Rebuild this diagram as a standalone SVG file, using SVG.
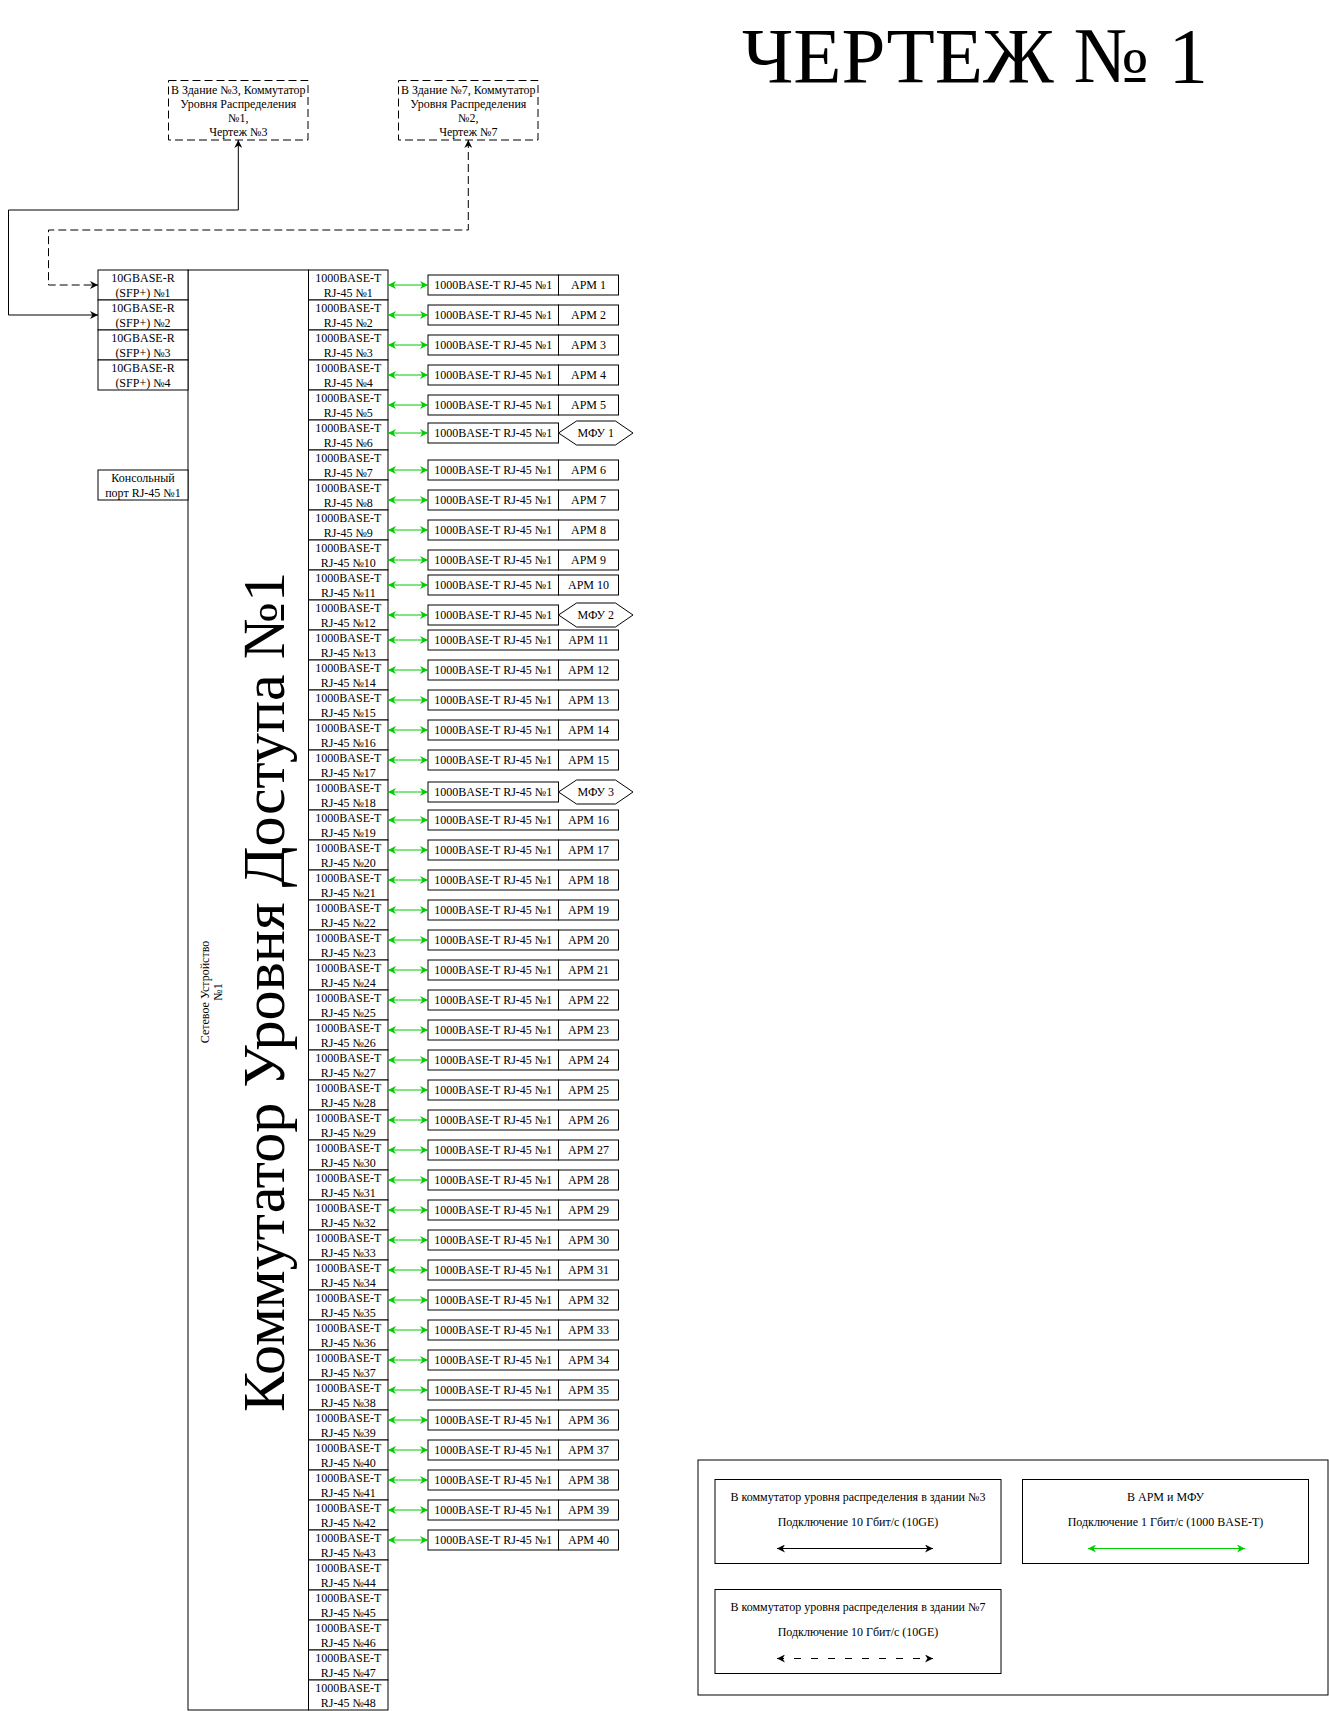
<svg xmlns="http://www.w3.org/2000/svg" width="1329" height="1711" viewBox="0 0 1329 1711">
<style>
.b{fill:#fff;stroke:#000;stroke-width:1}
.d{fill:#fff;stroke:#000;stroke-width:1;stroke-dasharray:8 4}
.t{font-family:"Liberation Serif","Times New Roman",serif;font-size:12px;text-anchor:middle;fill:#000}
.gl line{stroke:#00cc00;stroke-width:1;marker-start:url(#ag);marker-end:url(#ag)}
.bl{fill:none;stroke:#000;stroke-width:1;marker-start:url(#ab);marker-end:url(#ab)}
</style>
<defs>
<marker id="ab" viewBox="0 0 10 10" refX="10" refY="5" markerWidth="8" markerHeight="8" markerUnits="userSpaceOnUse" orient="auto-start-reverse"><path d="M0,0 L10,5 L0,10 L3,5 z" fill="#000"/></marker>
<marker id="ag" viewBox="0 0 10 10" refX="10" refY="5" markerWidth="8" markerHeight="8" markerUnits="userSpaceOnUse" orient="auto-start-reverse"><path d="M0,0 L10,5 L0,10 L3,5 z" fill="#00cc00"/></marker>
</defs>
<rect width="1329" height="1711" fill="#fff"/>

<text id="title" x="975" y="82" style="font-family:'Liberation Serif','Times New Roman',serif;font-size:79px;text-anchor:middle">ЧЕРТЕЖ № 1</text>

<g id="dist-sw-1">
<rect class="d" x="168.5" y="80.5" width="139.5" height="59.5"/>
<text class="t" x="238.3" y="93.5">В Здание №3, Коммутатор</text>
<text class="t" x="238.3" y="107.5">Уровня Распределения</text>
<text class="t" x="238.3" y="121.5">№1,</text>
<text class="t" x="238.3" y="135.5">Чертеж №3</text>
</g>
<g id="dist-sw-2">
<rect class="d" x="398.5" y="80.5" width="139.5" height="59.5"/>
<text class="t" x="468.3" y="93.5">В Здание №7, Коммутатор</text>
<text class="t" x="468.3" y="107.5">Уровня Распределения</text>
<text class="t" x="468.3" y="121.5">№2,</text>
<text class="t" x="468.3" y="135.5">Чертеж №7</text>
</g>

<g id="access-switch">
<rect class="b" x="188" y="270" width="120.5" height="1440"/>
<text transform="translate(284,992) rotate(-90)" style="font-family:'Liberation Serif','Times New Roman',serif;font-size:60px;text-anchor:middle">Коммутатор Уровня Доступа №1</text>
<text class="t" transform="translate(208.5,992) rotate(-90)"><tspan x="0" y="0">Сетевое Устройство</tspan><tspan x="0" y="13">№1</tspan></text>
</g>

<g id="sfp-1" transform="translate(0,270)"><rect class="b" x="98" y="0" width="90" height="30"/><text class="t" x="143" y="12">10GBASE-R</text><text class="t" x="143" y="26.5">(SFP+) №1</text></g>
<g id="sfp-2" transform="translate(0,300)"><rect class="b" x="98" y="0" width="90" height="30"/><text class="t" x="143" y="12">10GBASE-R</text><text class="t" x="143" y="26.5">(SFP+) №2</text></g>
<g id="sfp-3" transform="translate(0,330)"><rect class="b" x="98" y="0" width="90" height="30"/><text class="t" x="143" y="12">10GBASE-R</text><text class="t" x="143" y="26.5">(SFP+) №3</text></g>
<g id="sfp-4" transform="translate(0,360)"><rect class="b" x="98" y="0" width="90" height="30"/><text class="t" x="143" y="12">10GBASE-R</text><text class="t" x="143" y="26.5">(SFP+) №4</text></g>
<g id="console" transform="translate(0,470)"><rect class="b" x="98" y="0" width="90" height="30"/><text class="t" x="143" y="12">Консольный</text><text class="t" x="143" y="26.5">порт RJ-45 №1</text></g>

<g id="port-1" transform="translate(0,270)"><rect class="b" x="308.5" y="0" width="79.5" height="30"/><text class="t" x="348.3" y="12">1000BASE-T</text><text class="t" x="348.3" y="26.5">RJ-45 №1</text></g>
<g id="port-2" transform="translate(0,300)"><rect class="b" x="308.5" y="0" width="79.5" height="30"/><text class="t" x="348.3" y="12">1000BASE-T</text><text class="t" x="348.3" y="26.5">RJ-45 №2</text></g>
<g id="port-3" transform="translate(0,330)"><rect class="b" x="308.5" y="0" width="79.5" height="30"/><text class="t" x="348.3" y="12">1000BASE-T</text><text class="t" x="348.3" y="26.5">RJ-45 №3</text></g>
<g id="port-4" transform="translate(0,360)"><rect class="b" x="308.5" y="0" width="79.5" height="30"/><text class="t" x="348.3" y="12">1000BASE-T</text><text class="t" x="348.3" y="26.5">RJ-45 №4</text></g>
<g id="port-5" transform="translate(0,390)"><rect class="b" x="308.5" y="0" width="79.5" height="30"/><text class="t" x="348.3" y="12">1000BASE-T</text><text class="t" x="348.3" y="26.5">RJ-45 №5</text></g>
<g id="port-6" transform="translate(0,420)"><rect class="b" x="308.5" y="0" width="79.5" height="30"/><text class="t" x="348.3" y="12">1000BASE-T</text><text class="t" x="348.3" y="26.5">RJ-45 №6</text></g>
<g id="port-7" transform="translate(0,450)"><rect class="b" x="308.5" y="0" width="79.5" height="30"/><text class="t" x="348.3" y="12">1000BASE-T</text><text class="t" x="348.3" y="26.5">RJ-45 №7</text></g>
<g id="port-8" transform="translate(0,480)"><rect class="b" x="308.5" y="0" width="79.5" height="30"/><text class="t" x="348.3" y="12">1000BASE-T</text><text class="t" x="348.3" y="26.5">RJ-45 №8</text></g>
<g id="port-9" transform="translate(0,510)"><rect class="b" x="308.5" y="0" width="79.5" height="30"/><text class="t" x="348.3" y="12">1000BASE-T</text><text class="t" x="348.3" y="26.5">RJ-45 №9</text></g>
<g id="port-10" transform="translate(0,540)"><rect class="b" x="308.5" y="0" width="79.5" height="30"/><text class="t" x="348.3" y="12">1000BASE-T</text><text class="t" x="348.3" y="26.5">RJ-45 №10</text></g>
<g id="port-11" transform="translate(0,570)"><rect class="b" x="308.5" y="0" width="79.5" height="30"/><text class="t" x="348.3" y="12">1000BASE-T</text><text class="t" x="348.3" y="26.5">RJ-45 №11</text></g>
<g id="port-12" transform="translate(0,600)"><rect class="b" x="308.5" y="0" width="79.5" height="30"/><text class="t" x="348.3" y="12">1000BASE-T</text><text class="t" x="348.3" y="26.5">RJ-45 №12</text></g>
<g id="port-13" transform="translate(0,630)"><rect class="b" x="308.5" y="0" width="79.5" height="30"/><text class="t" x="348.3" y="12">1000BASE-T</text><text class="t" x="348.3" y="26.5">RJ-45 №13</text></g>
<g id="port-14" transform="translate(0,660)"><rect class="b" x="308.5" y="0" width="79.5" height="30"/><text class="t" x="348.3" y="12">1000BASE-T</text><text class="t" x="348.3" y="26.5">RJ-45 №14</text></g>
<g id="port-15" transform="translate(0,690)"><rect class="b" x="308.5" y="0" width="79.5" height="30"/><text class="t" x="348.3" y="12">1000BASE-T</text><text class="t" x="348.3" y="26.5">RJ-45 №15</text></g>
<g id="port-16" transform="translate(0,720)"><rect class="b" x="308.5" y="0" width="79.5" height="30"/><text class="t" x="348.3" y="12">1000BASE-T</text><text class="t" x="348.3" y="26.5">RJ-45 №16</text></g>
<g id="port-17" transform="translate(0,750)"><rect class="b" x="308.5" y="0" width="79.5" height="30"/><text class="t" x="348.3" y="12">1000BASE-T</text><text class="t" x="348.3" y="26.5">RJ-45 №17</text></g>
<g id="port-18" transform="translate(0,780)"><rect class="b" x="308.5" y="0" width="79.5" height="30"/><text class="t" x="348.3" y="12">1000BASE-T</text><text class="t" x="348.3" y="26.5">RJ-45 №18</text></g>
<g id="port-19" transform="translate(0,810)"><rect class="b" x="308.5" y="0" width="79.5" height="30"/><text class="t" x="348.3" y="12">1000BASE-T</text><text class="t" x="348.3" y="26.5">RJ-45 №19</text></g>
<g id="port-20" transform="translate(0,840)"><rect class="b" x="308.5" y="0" width="79.5" height="30"/><text class="t" x="348.3" y="12">1000BASE-T</text><text class="t" x="348.3" y="26.5">RJ-45 №20</text></g>
<g id="port-21" transform="translate(0,870)"><rect class="b" x="308.5" y="0" width="79.5" height="30"/><text class="t" x="348.3" y="12">1000BASE-T</text><text class="t" x="348.3" y="26.5">RJ-45 №21</text></g>
<g id="port-22" transform="translate(0,900)"><rect class="b" x="308.5" y="0" width="79.5" height="30"/><text class="t" x="348.3" y="12">1000BASE-T</text><text class="t" x="348.3" y="26.5">RJ-45 №22</text></g>
<g id="port-23" transform="translate(0,930)"><rect class="b" x="308.5" y="0" width="79.5" height="30"/><text class="t" x="348.3" y="12">1000BASE-T</text><text class="t" x="348.3" y="26.5">RJ-45 №23</text></g>
<g id="port-24" transform="translate(0,960)"><rect class="b" x="308.5" y="0" width="79.5" height="30"/><text class="t" x="348.3" y="12">1000BASE-T</text><text class="t" x="348.3" y="26.5">RJ-45 №24</text></g>
<g id="port-25" transform="translate(0,990)"><rect class="b" x="308.5" y="0" width="79.5" height="30"/><text class="t" x="348.3" y="12">1000BASE-T</text><text class="t" x="348.3" y="26.5">RJ-45 №25</text></g>
<g id="port-26" transform="translate(0,1020)"><rect class="b" x="308.5" y="0" width="79.5" height="30"/><text class="t" x="348.3" y="12">1000BASE-T</text><text class="t" x="348.3" y="26.5">RJ-45 №26</text></g>
<g id="port-27" transform="translate(0,1050)"><rect class="b" x="308.5" y="0" width="79.5" height="30"/><text class="t" x="348.3" y="12">1000BASE-T</text><text class="t" x="348.3" y="26.5">RJ-45 №27</text></g>
<g id="port-28" transform="translate(0,1080)"><rect class="b" x="308.5" y="0" width="79.5" height="30"/><text class="t" x="348.3" y="12">1000BASE-T</text><text class="t" x="348.3" y="26.5">RJ-45 №28</text></g>
<g id="port-29" transform="translate(0,1110)"><rect class="b" x="308.5" y="0" width="79.5" height="30"/><text class="t" x="348.3" y="12">1000BASE-T</text><text class="t" x="348.3" y="26.5">RJ-45 №29</text></g>
<g id="port-30" transform="translate(0,1140)"><rect class="b" x="308.5" y="0" width="79.5" height="30"/><text class="t" x="348.3" y="12">1000BASE-T</text><text class="t" x="348.3" y="26.5">RJ-45 №30</text></g>
<g id="port-31" transform="translate(0,1170)"><rect class="b" x="308.5" y="0" width="79.5" height="30"/><text class="t" x="348.3" y="12">1000BASE-T</text><text class="t" x="348.3" y="26.5">RJ-45 №31</text></g>
<g id="port-32" transform="translate(0,1200)"><rect class="b" x="308.5" y="0" width="79.5" height="30"/><text class="t" x="348.3" y="12">1000BASE-T</text><text class="t" x="348.3" y="26.5">RJ-45 №32</text></g>
<g id="port-33" transform="translate(0,1230)"><rect class="b" x="308.5" y="0" width="79.5" height="30"/><text class="t" x="348.3" y="12">1000BASE-T</text><text class="t" x="348.3" y="26.5">RJ-45 №33</text></g>
<g id="port-34" transform="translate(0,1260)"><rect class="b" x="308.5" y="0" width="79.5" height="30"/><text class="t" x="348.3" y="12">1000BASE-T</text><text class="t" x="348.3" y="26.5">RJ-45 №34</text></g>
<g id="port-35" transform="translate(0,1290)"><rect class="b" x="308.5" y="0" width="79.5" height="30"/><text class="t" x="348.3" y="12">1000BASE-T</text><text class="t" x="348.3" y="26.5">RJ-45 №35</text></g>
<g id="port-36" transform="translate(0,1320)"><rect class="b" x="308.5" y="0" width="79.5" height="30"/><text class="t" x="348.3" y="12">1000BASE-T</text><text class="t" x="348.3" y="26.5">RJ-45 №36</text></g>
<g id="port-37" transform="translate(0,1350)"><rect class="b" x="308.5" y="0" width="79.5" height="30"/><text class="t" x="348.3" y="12">1000BASE-T</text><text class="t" x="348.3" y="26.5">RJ-45 №37</text></g>
<g id="port-38" transform="translate(0,1380)"><rect class="b" x="308.5" y="0" width="79.5" height="30"/><text class="t" x="348.3" y="12">1000BASE-T</text><text class="t" x="348.3" y="26.5">RJ-45 №38</text></g>
<g id="port-39" transform="translate(0,1410)"><rect class="b" x="308.5" y="0" width="79.5" height="30"/><text class="t" x="348.3" y="12">1000BASE-T</text><text class="t" x="348.3" y="26.5">RJ-45 №39</text></g>
<g id="port-40" transform="translate(0,1440)"><rect class="b" x="308.5" y="0" width="79.5" height="30"/><text class="t" x="348.3" y="12">1000BASE-T</text><text class="t" x="348.3" y="26.5">RJ-45 №40</text></g>
<g id="port-41" transform="translate(0,1470)"><rect class="b" x="308.5" y="0" width="79.5" height="30"/><text class="t" x="348.3" y="12">1000BASE-T</text><text class="t" x="348.3" y="26.5">RJ-45 №41</text></g>
<g id="port-42" transform="translate(0,1500)"><rect class="b" x="308.5" y="0" width="79.5" height="30"/><text class="t" x="348.3" y="12">1000BASE-T</text><text class="t" x="348.3" y="26.5">RJ-45 №42</text></g>
<g id="port-43" transform="translate(0,1530)"><rect class="b" x="308.5" y="0" width="79.5" height="30"/><text class="t" x="348.3" y="12">1000BASE-T</text><text class="t" x="348.3" y="26.5">RJ-45 №43</text></g>
<g id="port-44" transform="translate(0,1560)"><rect class="b" x="308.5" y="0" width="79.5" height="30"/><text class="t" x="348.3" y="12">1000BASE-T</text><text class="t" x="348.3" y="26.5">RJ-45 №44</text></g>
<g id="port-45" transform="translate(0,1590)"><rect class="b" x="308.5" y="0" width="79.5" height="30"/><text class="t" x="348.3" y="12">1000BASE-T</text><text class="t" x="348.3" y="26.5">RJ-45 №45</text></g>
<g id="port-46" transform="translate(0,1620)"><rect class="b" x="308.5" y="0" width="79.5" height="30"/><text class="t" x="348.3" y="12">1000BASE-T</text><text class="t" x="348.3" y="26.5">RJ-45 №46</text></g>
<g id="port-47" transform="translate(0,1650)"><rect class="b" x="308.5" y="0" width="79.5" height="30"/><text class="t" x="348.3" y="12">1000BASE-T</text><text class="t" x="348.3" y="26.5">RJ-45 №47</text></g>
<g id="port-48" transform="translate(0,1680)"><rect class="b" x="308.5" y="0" width="79.5" height="30"/><text class="t" x="348.3" y="12">1000BASE-T</text><text class="t" x="348.3" y="26.5">RJ-45 №48</text></g>

<g id="arm-1" transform="translate(0,285)"><rect class="b" x="428" y="-10" width="130.5" height="20"/><rect class="b" x="558.5" y="-10" width="60" height="20"/><text class="t" x="493.3" y="4">1000BASE-T RJ-45 №1</text><text class="t" x="588.5" y="4">АРМ 1</text></g>
<g id="arm-2" transform="translate(0,315)"><rect class="b" x="428" y="-10" width="130.5" height="20"/><rect class="b" x="558.5" y="-10" width="60" height="20"/><text class="t" x="493.3" y="4">1000BASE-T RJ-45 №1</text><text class="t" x="588.5" y="4">АРМ 2</text></g>
<g id="arm-3" transform="translate(0,345)"><rect class="b" x="428" y="-10" width="130.5" height="20"/><rect class="b" x="558.5" y="-10" width="60" height="20"/><text class="t" x="493.3" y="4">1000BASE-T RJ-45 №1</text><text class="t" x="588.5" y="4">АРМ 3</text></g>
<g id="arm-4" transform="translate(0,375)"><rect class="b" x="428" y="-10" width="130.5" height="20"/><rect class="b" x="558.5" y="-10" width="60" height="20"/><text class="t" x="493.3" y="4">1000BASE-T RJ-45 №1</text><text class="t" x="588.5" y="4">АРМ 4</text></g>
<g id="arm-5" transform="translate(0,405)"><rect class="b" x="428" y="-10" width="130.5" height="20"/><rect class="b" x="558.5" y="-10" width="60" height="20"/><text class="t" x="493.3" y="4">1000BASE-T RJ-45 №1</text><text class="t" x="588.5" y="4">АРМ 5</text></g>
<g id="mfu-1" transform="translate(0,433)"><rect class="b" x="428" y="-10" width="130.5" height="20"/><polygon class="b" points="558.5,0 576.5,-12 615.5,-12 633,0 615.5,12 576.5,12"/><text class="t" x="493.3" y="4">1000BASE-T RJ-45 №1</text><text class="t" x="595.8" y="4">МФУ 1</text></g>
<g id="arm-6" transform="translate(0,470)"><rect class="b" x="428" y="-10" width="130.5" height="20"/><rect class="b" x="558.5" y="-10" width="60" height="20"/><text class="t" x="493.3" y="4">1000BASE-T RJ-45 №1</text><text class="t" x="588.5" y="4">АРМ 6</text></g>
<g id="arm-7" transform="translate(0,500)"><rect class="b" x="428" y="-10" width="130.5" height="20"/><rect class="b" x="558.5" y="-10" width="60" height="20"/><text class="t" x="493.3" y="4">1000BASE-T RJ-45 №1</text><text class="t" x="588.5" y="4">АРМ 7</text></g>
<g id="arm-8" transform="translate(0,530)"><rect class="b" x="428" y="-10" width="130.5" height="20"/><rect class="b" x="558.5" y="-10" width="60" height="20"/><text class="t" x="493.3" y="4">1000BASE-T RJ-45 №1</text><text class="t" x="588.5" y="4">АРМ 8</text></g>
<g id="arm-9" transform="translate(0,560)"><rect class="b" x="428" y="-10" width="130.5" height="20"/><rect class="b" x="558.5" y="-10" width="60" height="20"/><text class="t" x="493.3" y="4">1000BASE-T RJ-45 №1</text><text class="t" x="588.5" y="4">АРМ 9</text></g>
<g id="arm-10" transform="translate(0,585)"><rect class="b" x="428" y="-10" width="130.5" height="20"/><rect class="b" x="558.5" y="-10" width="60" height="20"/><text class="t" x="493.3" y="4">1000BASE-T RJ-45 №1</text><text class="t" x="588.5" y="4">АРМ 10</text></g>
<g id="mfu-2" transform="translate(0,615)"><rect class="b" x="428" y="-10" width="130.5" height="20"/><polygon class="b" points="558.5,0 576.5,-12 615.5,-12 633,0 615.5,12 576.5,12"/><text class="t" x="493.3" y="4">1000BASE-T RJ-45 №1</text><text class="t" x="595.8" y="4">МФУ 2</text></g>
<g id="arm-11" transform="translate(0,640)"><rect class="b" x="428" y="-10" width="130.5" height="20"/><rect class="b" x="558.5" y="-10" width="60" height="20"/><text class="t" x="493.3" y="4">1000BASE-T RJ-45 №1</text><text class="t" x="588.5" y="4">АРМ 11</text></g>
<g id="arm-12" transform="translate(0,670)"><rect class="b" x="428" y="-10" width="130.5" height="20"/><rect class="b" x="558.5" y="-10" width="60" height="20"/><text class="t" x="493.3" y="4">1000BASE-T RJ-45 №1</text><text class="t" x="588.5" y="4">АРМ 12</text></g>
<g id="arm-13" transform="translate(0,700)"><rect class="b" x="428" y="-10" width="130.5" height="20"/><rect class="b" x="558.5" y="-10" width="60" height="20"/><text class="t" x="493.3" y="4">1000BASE-T RJ-45 №1</text><text class="t" x="588.5" y="4">АРМ 13</text></g>
<g id="arm-14" transform="translate(0,730)"><rect class="b" x="428" y="-10" width="130.5" height="20"/><rect class="b" x="558.5" y="-10" width="60" height="20"/><text class="t" x="493.3" y="4">1000BASE-T RJ-45 №1</text><text class="t" x="588.5" y="4">АРМ 14</text></g>
<g id="arm-15" transform="translate(0,760)"><rect class="b" x="428" y="-10" width="130.5" height="20"/><rect class="b" x="558.5" y="-10" width="60" height="20"/><text class="t" x="493.3" y="4">1000BASE-T RJ-45 №1</text><text class="t" x="588.5" y="4">АРМ 15</text></g>
<g id="mfu-3" transform="translate(0,792)"><rect class="b" x="428" y="-10" width="130.5" height="20"/><polygon class="b" points="558.5,0 576.5,-12 615.5,-12 633,0 615.5,12 576.5,12"/><text class="t" x="493.3" y="4">1000BASE-T RJ-45 №1</text><text class="t" x="595.8" y="4">МФУ 3</text></g>
<g id="arm-16" transform="translate(0,820)"><rect class="b" x="428" y="-10" width="130.5" height="20"/><rect class="b" x="558.5" y="-10" width="60" height="20"/><text class="t" x="493.3" y="4">1000BASE-T RJ-45 №1</text><text class="t" x="588.5" y="4">АРМ 16</text></g>
<g id="arm-17" transform="translate(0,850)"><rect class="b" x="428" y="-10" width="130.5" height="20"/><rect class="b" x="558.5" y="-10" width="60" height="20"/><text class="t" x="493.3" y="4">1000BASE-T RJ-45 №1</text><text class="t" x="588.5" y="4">АРМ 17</text></g>
<g id="arm-18" transform="translate(0,880)"><rect class="b" x="428" y="-10" width="130.5" height="20"/><rect class="b" x="558.5" y="-10" width="60" height="20"/><text class="t" x="493.3" y="4">1000BASE-T RJ-45 №1</text><text class="t" x="588.5" y="4">АРМ 18</text></g>
<g id="arm-19" transform="translate(0,910)"><rect class="b" x="428" y="-10" width="130.5" height="20"/><rect class="b" x="558.5" y="-10" width="60" height="20"/><text class="t" x="493.3" y="4">1000BASE-T RJ-45 №1</text><text class="t" x="588.5" y="4">АРМ 19</text></g>
<g id="arm-20" transform="translate(0,940)"><rect class="b" x="428" y="-10" width="130.5" height="20"/><rect class="b" x="558.5" y="-10" width="60" height="20"/><text class="t" x="493.3" y="4">1000BASE-T RJ-45 №1</text><text class="t" x="588.5" y="4">АРМ 20</text></g>
<g id="arm-21" transform="translate(0,970)"><rect class="b" x="428" y="-10" width="130.5" height="20"/><rect class="b" x="558.5" y="-10" width="60" height="20"/><text class="t" x="493.3" y="4">1000BASE-T RJ-45 №1</text><text class="t" x="588.5" y="4">АРМ 21</text></g>
<g id="arm-22" transform="translate(0,1000)"><rect class="b" x="428" y="-10" width="130.5" height="20"/><rect class="b" x="558.5" y="-10" width="60" height="20"/><text class="t" x="493.3" y="4">1000BASE-T RJ-45 №1</text><text class="t" x="588.5" y="4">АРМ 22</text></g>
<g id="arm-23" transform="translate(0,1030)"><rect class="b" x="428" y="-10" width="130.5" height="20"/><rect class="b" x="558.5" y="-10" width="60" height="20"/><text class="t" x="493.3" y="4">1000BASE-T RJ-45 №1</text><text class="t" x="588.5" y="4">АРМ 23</text></g>
<g id="arm-24" transform="translate(0,1060)"><rect class="b" x="428" y="-10" width="130.5" height="20"/><rect class="b" x="558.5" y="-10" width="60" height="20"/><text class="t" x="493.3" y="4">1000BASE-T RJ-45 №1</text><text class="t" x="588.5" y="4">АРМ 24</text></g>
<g id="arm-25" transform="translate(0,1090)"><rect class="b" x="428" y="-10" width="130.5" height="20"/><rect class="b" x="558.5" y="-10" width="60" height="20"/><text class="t" x="493.3" y="4">1000BASE-T RJ-45 №1</text><text class="t" x="588.5" y="4">АРМ 25</text></g>
<g id="arm-26" transform="translate(0,1120)"><rect class="b" x="428" y="-10" width="130.5" height="20"/><rect class="b" x="558.5" y="-10" width="60" height="20"/><text class="t" x="493.3" y="4">1000BASE-T RJ-45 №1</text><text class="t" x="588.5" y="4">АРМ 26</text></g>
<g id="arm-27" transform="translate(0,1150)"><rect class="b" x="428" y="-10" width="130.5" height="20"/><rect class="b" x="558.5" y="-10" width="60" height="20"/><text class="t" x="493.3" y="4">1000BASE-T RJ-45 №1</text><text class="t" x="588.5" y="4">АРМ 27</text></g>
<g id="arm-28" transform="translate(0,1180)"><rect class="b" x="428" y="-10" width="130.5" height="20"/><rect class="b" x="558.5" y="-10" width="60" height="20"/><text class="t" x="493.3" y="4">1000BASE-T RJ-45 №1</text><text class="t" x="588.5" y="4">АРМ 28</text></g>
<g id="arm-29" transform="translate(0,1210)"><rect class="b" x="428" y="-10" width="130.5" height="20"/><rect class="b" x="558.5" y="-10" width="60" height="20"/><text class="t" x="493.3" y="4">1000BASE-T RJ-45 №1</text><text class="t" x="588.5" y="4">АРМ 29</text></g>
<g id="arm-30" transform="translate(0,1240)"><rect class="b" x="428" y="-10" width="130.5" height="20"/><rect class="b" x="558.5" y="-10" width="60" height="20"/><text class="t" x="493.3" y="4">1000BASE-T RJ-45 №1</text><text class="t" x="588.5" y="4">АРМ 30</text></g>
<g id="arm-31" transform="translate(0,1270)"><rect class="b" x="428" y="-10" width="130.5" height="20"/><rect class="b" x="558.5" y="-10" width="60" height="20"/><text class="t" x="493.3" y="4">1000BASE-T RJ-45 №1</text><text class="t" x="588.5" y="4">АРМ 31</text></g>
<g id="arm-32" transform="translate(0,1300)"><rect class="b" x="428" y="-10" width="130.5" height="20"/><rect class="b" x="558.5" y="-10" width="60" height="20"/><text class="t" x="493.3" y="4">1000BASE-T RJ-45 №1</text><text class="t" x="588.5" y="4">АРМ 32</text></g>
<g id="arm-33" transform="translate(0,1330)"><rect class="b" x="428" y="-10" width="130.5" height="20"/><rect class="b" x="558.5" y="-10" width="60" height="20"/><text class="t" x="493.3" y="4">1000BASE-T RJ-45 №1</text><text class="t" x="588.5" y="4">АРМ 33</text></g>
<g id="arm-34" transform="translate(0,1360)"><rect class="b" x="428" y="-10" width="130.5" height="20"/><rect class="b" x="558.5" y="-10" width="60" height="20"/><text class="t" x="493.3" y="4">1000BASE-T RJ-45 №1</text><text class="t" x="588.5" y="4">АРМ 34</text></g>
<g id="arm-35" transform="translate(0,1390)"><rect class="b" x="428" y="-10" width="130.5" height="20"/><rect class="b" x="558.5" y="-10" width="60" height="20"/><text class="t" x="493.3" y="4">1000BASE-T RJ-45 №1</text><text class="t" x="588.5" y="4">АРМ 35</text></g>
<g id="arm-36" transform="translate(0,1420)"><rect class="b" x="428" y="-10" width="130.5" height="20"/><rect class="b" x="558.5" y="-10" width="60" height="20"/><text class="t" x="493.3" y="4">1000BASE-T RJ-45 №1</text><text class="t" x="588.5" y="4">АРМ 36</text></g>
<g id="arm-37" transform="translate(0,1450)"><rect class="b" x="428" y="-10" width="130.5" height="20"/><rect class="b" x="558.5" y="-10" width="60" height="20"/><text class="t" x="493.3" y="4">1000BASE-T RJ-45 №1</text><text class="t" x="588.5" y="4">АРМ 37</text></g>
<g id="arm-38" transform="translate(0,1480)"><rect class="b" x="428" y="-10" width="130.5" height="20"/><rect class="b" x="558.5" y="-10" width="60" height="20"/><text class="t" x="493.3" y="4">1000BASE-T RJ-45 №1</text><text class="t" x="588.5" y="4">АРМ 38</text></g>
<g id="arm-39" transform="translate(0,1510)"><rect class="b" x="428" y="-10" width="130.5" height="20"/><rect class="b" x="558.5" y="-10" width="60" height="20"/><text class="t" x="493.3" y="4">1000BASE-T RJ-45 №1</text><text class="t" x="588.5" y="4">АРМ 39</text></g>
<g id="arm-40" transform="translate(0,1540)"><rect class="b" x="428" y="-10" width="130.5" height="20"/><rect class="b" x="558.5" y="-10" width="60" height="20"/><text class="t" x="493.3" y="4">1000BASE-T RJ-45 №1</text><text class="t" x="588.5" y="4">АРМ 40</text></g>

<g id="connectors">
<path class="bl" d="M238.3,140 V210 H8.5 V315 H98"/>
<path class="bl" d="M468.3,140 V230 H48.5 V285 H98" stroke-dasharray="8 4"/>
<g class="gl">
<line x1="388" y1="285" x2="428" y2="285"/>
<line x1="388" y1="315" x2="428" y2="315"/>
<line x1="388" y1="345" x2="428" y2="345"/>
<line x1="388" y1="375" x2="428" y2="375"/>
<line x1="388" y1="405" x2="428" y2="405"/>
<line x1="388" y1="433" x2="428" y2="433"/>
<line x1="388" y1="470" x2="428" y2="470"/>
<line x1="388" y1="500" x2="428" y2="500"/>
<line x1="388" y1="530" x2="428" y2="530"/>
<line x1="388" y1="560" x2="428" y2="560"/>
<line x1="388" y1="585" x2="428" y2="585"/>
<line x1="388" y1="615" x2="428" y2="615"/>
<line x1="388" y1="640" x2="428" y2="640"/>
<line x1="388" y1="670" x2="428" y2="670"/>
<line x1="388" y1="700" x2="428" y2="700"/>
<line x1="388" y1="730" x2="428" y2="730"/>
<line x1="388" y1="760" x2="428" y2="760"/>
<line x1="388" y1="792" x2="428" y2="792"/>
<line x1="388" y1="820" x2="428" y2="820"/>
<line x1="388" y1="850" x2="428" y2="850"/>
<line x1="388" y1="880" x2="428" y2="880"/>
<line x1="388" y1="910" x2="428" y2="910"/>
<line x1="388" y1="940" x2="428" y2="940"/>
<line x1="388" y1="970" x2="428" y2="970"/>
<line x1="388" y1="1000" x2="428" y2="1000"/>
<line x1="388" y1="1030" x2="428" y2="1030"/>
<line x1="388" y1="1060" x2="428" y2="1060"/>
<line x1="388" y1="1090" x2="428" y2="1090"/>
<line x1="388" y1="1120" x2="428" y2="1120"/>
<line x1="388" y1="1150" x2="428" y2="1150"/>
<line x1="388" y1="1180" x2="428" y2="1180"/>
<line x1="388" y1="1210" x2="428" y2="1210"/>
<line x1="388" y1="1240" x2="428" y2="1240"/>
<line x1="388" y1="1270" x2="428" y2="1270"/>
<line x1="388" y1="1300" x2="428" y2="1300"/>
<line x1="388" y1="1330" x2="428" y2="1330"/>
<line x1="388" y1="1360" x2="428" y2="1360"/>
<line x1="388" y1="1390" x2="428" y2="1390"/>
<line x1="388" y1="1420" x2="428" y2="1420"/>
<line x1="388" y1="1450" x2="428" y2="1450"/>
<line x1="388" y1="1480" x2="428" y2="1480"/>
<line x1="388" y1="1510" x2="428" y2="1510"/>
<line x1="388" y1="1540" x2="428" y2="1540"/>
</g>
</g>

<g id="legend">
<rect class="b" x="698" y="1460" width="630" height="235"/>
<g id="legend-10ge-3">
<rect class="b" x="715" y="1479.5" width="286" height="84"/>
<text class="t" x="858" y="1501">В коммутатор уровня распределения в здании №3</text>
<text class="t" x="858" y="1526">Подключение 10 Гбит/с (10GE)</text>
<line class="bl" x1="777" y1="1548.5" x2="933" y2="1548.5"/>
</g>
<g id="legend-1g">
<rect class="b" x="1022.5" y="1479.5" width="286" height="84"/>
<text class="t" x="1165.5" y="1501">В АРМ и МФУ</text>
<text class="t" x="1165.5" y="1526">Подключение 1 Гбит/с (1000 BASE-T)</text>
<line x1="1088" y1="1548.5" x2="1245" y2="1548.5" stroke="#00cc00" stroke-width="1" marker-start="url(#ag)" marker-end="url(#ag)"/>
</g>
<g id="legend-10ge-7">
<rect class="b" x="715" y="1589.5" width="286" height="84"/>
<text class="t" x="858" y="1611">В коммутатор уровня распределения в здании №7</text>
<text class="t" x="858" y="1636">Подключение 10 Гбит/с (10GE)</text>
<line class="bl" x1="777" y1="1658.5" x2="933" y2="1658.5" stroke-dasharray="7 10"/>
</g>
</g>
</svg>
